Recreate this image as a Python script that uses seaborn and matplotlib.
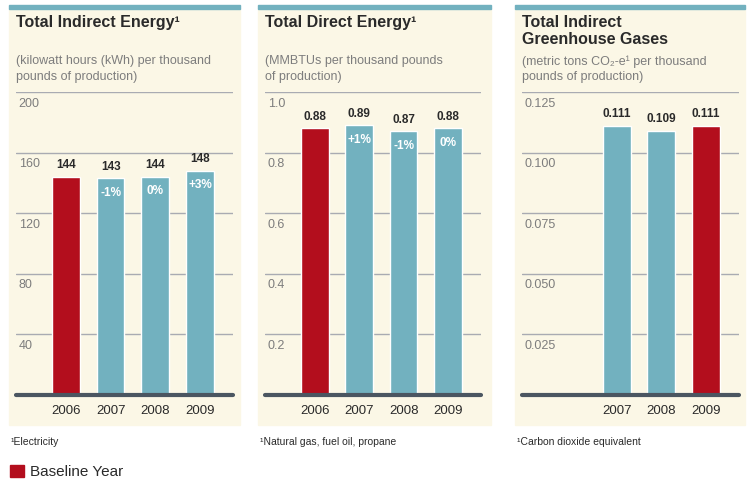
import matplotlib
matplotlib.use("Agg")
import matplotlib.pyplot as plt
from matplotlib.patches import Rectangle, Patch
import pandas as pd
import seaborn as sns

# data
years = ["2006", "2007", "2008", "2009"]
indirect_energy = [144, 143, 144, 148]
indirect_pct = ["", "-1%", "0%", "+3%"]
direct_energy = [0.88, 0.89, 0.87, 0.88]
direct_pct = ["", "+1%", "-1%", "0%"]
ghg_years = ["2007", "2008", "2009"]
ghg = [0.111, 0.109, 0.111]

panels = [
    dict(title="Total Indirect Energy¹",
         sub="(kilowatt hours (kWh) per thousand\npounds of production)",
         note="¹Electricity", x=years, y=indirect_energy, pct=indirect_pct,
         base="2006", fmt="{:.0f}", ticks=[40, 80, 120, 160, 200],
         ticklabels=["40", "80", "120", "160", "200"]),
    dict(title="Total Direct Energy¹",
         sub="(MMBTUs per thousand pounds\nof production)",
         note="¹Natural gas, fuel oil, propane", x=years, y=direct_energy,
         pct=direct_pct, base="2006", fmt="{:.2f}",
         ticks=[0.2, 0.4, 0.6, 0.8, 1.0],
         ticklabels=["0.2", "0.4", "0.6", "0.8", "1.0"]),
    dict(title="Total Indirect\nGreenhouse Gases",
         sub="(metric tons CO₂-e¹ per thousand\npounds of production)",
         note="¹Carbon dioxide equivalent", x=ghg_years, y=ghg,
         pct=["", "", ""], base="2009", fmt="{:.3f}",
         ticks=[0.025, 0.05, 0.075, 0.1, 0.125],
         ticklabels=["0.025", "0.050", "0.075", "0.100", "0.125"]),
]

teal = "#72b1bf"
red = "#b30e1d"
cream = "#fbf7e6"
grid_c = "#a9abb2"
axis_c = "#4b5661"
txt_dark = "#2a2a2a"
txt_grey = "#7d7d7d"

sns.set_style("white")
plt.rcParams["font.family"] = ["Liberation Sans Narrow", "Liberation Sans", "DejaVu Sans"]

W, H = 749, 483
fig = plt.figure(figsize=(W / 100, H / 100), dpi=100)
fig.patch.set_facecolor("white")

def fx(px):
    return px / W

def fy(py):
    return 1 - py / H

# panel frames in pixels: background left/right and axes left/right
frames = [(9, 240, 16, 233), (258, 491, 265, 481), (515, 745, 522, 739)]
ax_top, ax_bot = 92, 395

for p, (bg0, bg1, a0, a1) in zip(panels, frames):
    fig.add_artist(Rectangle((fx(bg0), fy(425)), fx(bg1 - bg0), (425 - 8) / H,
                             transform=fig.transFigure, color=cream, zorder=0))
    fig.add_artist(Rectangle((fx(bg0), fy(9)), fx(bg1 - bg0), 4 / H,
                             transform=fig.transFigure, color=teal, zorder=1))

    ax = fig.add_axes([fx(a0), fy(ax_bot), fx(a1 - a0), (ax_bot - ax_top) / H])
    ax.set_facecolor("none")

    df = pd.DataFrame({"year": p["x"], "value": p["y"]})
    pal = {yr: (red if yr == p["base"] else teal) for yr in years}
    sns.barplot(data=df, x="year", y="value", hue="year", order=years,
                hue_order=years, palette=pal, width=0.62, legend=False,
                saturation=1, ax=ax, zorder=3)

    ymax = p["ticks"][-1]
    ax.set_ylim(0, ymax)
    ax.set_xlim(-1.12, 3.74)
    ax.set_yticks(p["ticks"])
    ax.set_yticklabels([])
    ax.tick_params(axis="both", length=0)
    ax.yaxis.grid(True, color=grid_c, lw=1)
    ax.set_axisbelow(True)
    for s in ax.spines.values():
        s.set_visible(False)
    ax.axhline(0, color=axis_c, lw=3, zorder=4, clip_on=False)
    ax.set_xlabel("")
    ax.set_ylabel("")
    ax.set_xticks(range(len(years)))
    ax.set_xticklabels([yr if yr in p["x"] else "" for yr in years],
                       fontsize=9.5, color=txt_dark)
    ax.tick_params(axis="x", pad=7)

    for t, lab in zip(p["ticks"], p["ticklabels"]):
        ax.annotate(lab, xy=(0, t), xycoords=("axes fraction", "data"),
                    xytext=(2, -4), textcoords="offset points",
                    ha="left", va="top", fontsize=9, color=txt_grey)

    for bar in ax.patches:
        h = bar.get_height()
        if not h == h or h == 0:
            continue
        xc = bar.get_x() + bar.get_width() / 2
        i = p["x"].index(years[int(round(xc))])
        ax.annotate(p["fmt"].format(p["y"][i]), xy=(xc, h),
                    xytext=(0, 4), textcoords="offset points", ha="center",
                    va="bottom", fontsize=8.5, fontweight="bold", color=txt_dark)
        if p["pct"][i]:
            ax.annotate(p["pct"][i], xy=(xc, h), xytext=(0, -6),
                        textcoords="offset points", ha="center", va="top",
                        fontsize=8.5, fontweight="bold", color="white", zorder=5)

    tx = fx(bg0 + 7)
    fig.text(tx, fy(15), p["title"], ha="left", va="top", fontsize=11.5,
             fontweight="bold", color=txt_dark, linespacing=1.2)
    fig.text(tx, fy(55), p["sub"], ha="left", va="top", fontsize=9,
             color=txt_grey, linespacing=1.4)
    fig.text(fx(bg0 + 2), fy(442), p["note"], ha="left", va="center",
             fontsize=7.5, color=txt_dark)

fig.legend(handles=[Patch(facecolor=red, edgecolor=red, label="Baseline Year")],
           loc="center left", bbox_to_anchor=(fx(10), fy(472)), frameon=False,
           fontsize=11, handlelength=0.9, handleheight=0.9, handletextpad=0.4,
           borderpad=0, borderaxespad=0, labelcolor=txt_dark)

fig.savefig("out.png", dpi=100, facecolor="white")
